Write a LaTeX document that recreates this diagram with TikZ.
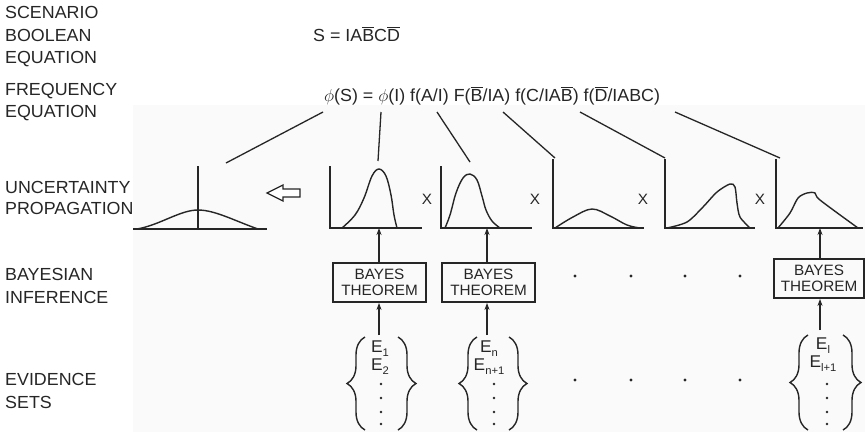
\documentclass[tikz,border=0pt]{standalone}
\usepackage{fontspec}
\setmainfont[FakeStretch=1.02]{Liberation Sans}
\usetikzlibrary{decorations.pathreplacing,arrows.meta}
\newcommand\ob[1]{\ensuremath{\overline{\mbox{#1}}}}
\newcommand\sbs[1]{\raisebox{-4pt}{\fontsize{11}{11}\selectfont #1}}
\definecolor{ink}{HTML}{262626}
\definecolor{bgpale}{HTML}{FAFAFA}
\begin{document}
\begin{tikzpicture}[x=1pt,y=-1pt,
  lbl/.style={anchor=base west,inner sep=0,font=\fontsize{17.5}{20}\selectfont,text=ink},
  eqn/.style={anchor=base west,inner sep=0,font=\fontsize{17.5}{20}\selectfont,text=ink},
  ln/.style={draw=ink,line width=1.3pt},
  axl/.style={draw=ink,line width=1.5pt},
  crv/.style={draw=ink,line width=1.4pt},
  bayes/.style={draw=ink,line width=1.8pt,minimum width=93pt,minimum height=39pt,inner sep=0,align=center,font=\fontsize{15}{16}\selectfont,text=ink},
  uparr/.style={draw=ink,line width=1.4pt,-{Stealth[length=7pt,width=5pt]}},
  brc/.style={draw=ink,line width=1.4pt,decorate,decoration={brace,amplitude=18pt}},
  ev/.style={anchor=base,inner sep=0,font=\fontsize{17}{17}\selectfont,text=ink},
  dotn/.style={circle,fill=ink,inner sep=0,minimum size=3.2pt},
  mul/.style={inner sep=0,font=\fontsize{15}{16}\selectfont,text=ink}
]
\useasboundingbox (0,0) rectangle (865,432);
\fill[bgpale] (133,105) rectangle (865,432);

% left labels
\node[lbl] (la1) at (5,18) {SCENARIO};
\node[lbl] (la2) at (5,41) {BOOLEAN};
\node[lbl] (la3) at (5,63) {EQUATION};
\node[lbl] (lb1) at (5,95) {FREQUENCY};
\node[lbl] (lb2) at (5,117) {EQUATION};
\node[lbl] (lc1) at (5,193) {UNCERTAINTY};
\node[lbl] (lc2) at (5,214) {PROPAGATION};
\node[lbl] (ld1) at (5,280) {BAYESIAN};
\node[lbl] (ld2) at (5,303) {INFERENCE};
\node[lbl] (le1) at (5,385) {EVIDENCE};
\node[lbl] (le2) at (5,408) {SETS};

% equations
\node[eqn] (boole) at (313,41) {S = IA\ob{B}C\ob{D}};
\node[eqn] (freq) at (324,101) {$\phi$(S) = $\phi$(I) f(A/I) F(\ob{B}/IA) f(C/IA\ob{B}) f(\ob{D}/IABC)};

% connector lines
\coordinate (s0) at (323,112); \coordinate (t0) at (226,163);
\coordinate (s1) at (381,112); \coordinate (t1) at (378,161);
\coordinate (s2) at (437,112); \coordinate (t2) at (470,162);
\coordinate (s3) at (503,112); \coordinate (t3) at (555,158);
\coordinate (s4) at (580,112); \coordinate (t4) at (665,158);
\coordinate (s5) at (675,112); \coordinate (t5) at (780,158);
\foreach \i in {0,...,5} \draw[ln] (s\i) -- (t\i);

% result plot
\draw[axl] (133,229) -- (267,229);
\draw[axl] (198,166) -- (198,229);
\draw[crv] (137,229) .. controls (160,225) and (180,210) .. (198,210) .. controls (215,210) and (235,221) .. (258,229);

% hollow arrow
\draw[ink,line width=1.3pt,fill=white] (267,193) -- (283,185) -- (283,189) -- (300,189) -- (300,197) -- (283,197) -- (283,201) -- cycle;

% plot 1
\draw[axl] (330,166) -- (330,228) -- (422,228);
\draw[crv] plot[smooth,tension=0.6] coordinates {(342,228) (355,215) (364,198) (372,176) (379,169) (386,176) (391,195) (394,215) (397,228)};
% plot 2
\draw[axl] (441,166) -- (441,228) -- (532,228);
\draw[crv] plot[smooth,tension=0.6] coordinates {(445,228) (450,215) (456,193) (463,178) (470,174) (477,180) (482,196) (486,210) (492,221) (500,228)};
% plot 3
\draw[axl] (553,159) -- (553,228) -- (644,228);
\draw[crv] plot[smooth,tension=0.6] coordinates {(555,228) (573,217) (592,209) (610,216) (627,225) (640,228)};
% plot 4
\draw[axl] (665,159) -- (665,228) -- (755,228);
\draw[crv] plot[smooth,tension=0.5] coordinates {(667,228) (687,222) (703,207) (717,192) (730,184) (735,187) (737,203) (740,217) (750,228)};
% plot 5
\draw[axl] (776,159) -- (776,228) -- (863,228);
\draw[crv] plot[smooth,tension=0.5] coordinates {(778,228) (790,213) (798,198) (807,193) (815,193) (820,200) (858,228)};

% multiplication signs
\node[mul] (x1) at (427,199) {X};
\node[mul] (x2) at (535,199) {X};
\node[mul] (x3) at (643,199) {X};
\node[mul] (x4) at (760,199) {X};

% Bayes boxes
\node[bayes] (b1) at (379.5,282.5) {BAYES\\THEOREM};
\node[bayes] (b2) at (488.5,282.5) {BAYES\\THEOREM};
\node[bayes,minimum width=90pt] (b3) at (819,278.5) {BAYES\\THEOREM};

\coordinate (p1) at (379,228); \coordinate (p2) at (487,228); \coordinate (p3) at (820,228);
\draw[uparr] (b1.north -| p1) -- (p1);
\draw[uparr] (b2.north -| p2) -- (p2);
\draw[uparr] (b3.north -| p3) -- (p3);

\coordinate (e1) at (379,335); \coordinate (e2) at (487,335); \coordinate (e3) at (820,330);
\draw[uparr] (e1) -- (b1.south -| e1);
\draw[uparr] (e2) -- (b2.south -| e2);
\draw[uparr] (e3) -- (b3.south -| e3);

% evidence sets
\draw[brc] (365,430) -- (365,337);
\draw[brc] (398,337) -- (398,430);
\draw[brc] (477,430) -- (477,337);
\draw[brc] (509,337) -- (509,430);
\draw[brc] (808,430) -- (808,335);
\draw[brc] (843,335) -- (843,430);

\node[ev] (ea1) at (380,352) {E\sbs{1}};
\node[ev] (ea2) at (380,370) {E\sbs{2}};
\node[ev] (eb1) at (489,352) {E\sbs{n}};
\node[ev] (eb2) at (489,370) {E\sbs{n+1}};
\node[ev] (ec1) at (823,349) {E\sbs{l}};
\node[ev] (ec2) at (823,367) {E\sbs{l+1}};
\foreach \xx/\nm in {381/a,494/b,827/c}
  \foreach \yy/\k in {384/1,398/2,412/3,424/4}
    \node[dotn,minimum size=2.8pt] (v\nm\k) at (\xx,\yy) {};

% row dots
\foreach \xx/\k in {575/1,631/2,685/3,740/4} {
  \node[dotn] (ra\k) at (\xx,276) {};
  \node[dotn] (rb\k) at (\xx,380) {};
}
\end{tikzpicture}
\end{document}
